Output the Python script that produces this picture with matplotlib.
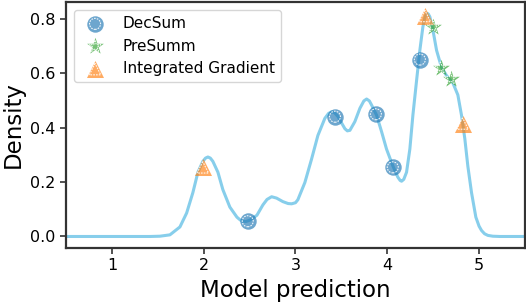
import numpy as np
import matplotlib
matplotlib.use("Agg")
import matplotlib.pyplot as plt
import seaborn as sns

# density curve
curve_x = [0.5, 1.414, 1.523, 1.632, 1.741, 1.814, 1.882, 1.937, 1.991, 2.020, 2.046,
           2.072, 2.100, 2.155, 2.209, 2.285, 2.362, 2.400, 2.427, 2.460, 2.503, 2.580,
           2.645, 2.690, 2.740, 2.794, 2.863, 2.920, 2.958, 3.000, 3.026, 3.102, 3.175,
           3.244, 3.320, 3.360, 3.393, 3.425, 3.462, 3.538, 3.565, 3.593, 3.647, 3.702,
           3.745, 3.775, 3.805, 3.829, 3.883, 3.938, 3.992, 4.061, 4.115, 4.140, 4.156,
           4.180, 4.210, 4.246, 4.279, 4.319, 4.355, 4.388, 4.410, 4.428, 4.446, 4.464,
           4.497, 4.537, 4.591, 4.646, 4.715, 4.769, 4.809, 4.845, 4.878, 4.918, 4.965,
           5.000, 5.027, 5.060, 5.096, 5.150, 5.227, 5.5]
curve_y = [0.0, 0.0, 0.001, 0.006, 0.035, 0.086, 0.161, 0.236, 0.276, 0.288, 0.292,
           0.288, 0.276, 0.236, 0.172, 0.108, 0.071, 0.060, 0.056, 0.055, 0.060, 0.078,
           0.116, 0.136, 0.146, 0.141, 0.128, 0.121, 0.120, 0.124, 0.135, 0.198, 0.284,
           0.371, 0.434, 0.452, 0.458, 0.455, 0.441, 0.396, 0.388, 0.390, 0.422, 0.471,
           0.498, 0.505, 0.498, 0.483, 0.446, 0.385, 0.321, 0.259, 0.218, 0.206, 0.203,
           0.210, 0.236, 0.321, 0.445, 0.572, 0.684, 0.770, 0.805, 0.820, 0.818, 0.807,
           0.759, 0.684, 0.621, 0.591, 0.564, 0.520, 0.445, 0.359, 0.258, 0.161, 0.071,
           0.038, 0.022, 0.010, 0.004, 0.001, 0.0, 0.0]

decsum_x = [2.48, 3.43, 3.876, 4.06, 4.355]
decsum_y = [0.056, 0.44, 0.449, 0.254, 0.65]
presumm_x = [4.50, 4.58, 4.69]
presumm_y = [0.77, 0.62, 0.58]
ig_x = [1.99, 4.41, 4.82]
ig_y = [0.254, 0.81, 0.415]

sns.set_style("ticks")
plt.rcParams['font.family'] = ['DejaVu Sans']
plt.rcParams['text.color'] = 'black'
plt.rcParams['axes.labelcolor'] = 'black'

fig = plt.figure(figsize=(5.26, 3.02), dpi=100)
ax = fig.add_axes([0.1255, 0.18, 0.8725, 0.813])

ax.plot(curve_x, curve_y, color='skyblue', lw=2.2, zorder=1)

handles = []
for xs, ys, m, c, s, lab in [(decsum_x, decsum_y, 'o', 'tab:blue', 140, 'DecSum'),
                             (presumm_x, presumm_y, '*', 'tab:green', 160, 'PreSumm'),
                             (ig_x, ig_y, '^', 'tab:orange', 150, 'Integrated Gradient')]:
    h1 = ax.scatter(xs, ys, s=s, marker=m, color=c, alpha=0.65, linewidths=0, zorder=3)
    h2 = ax.scatter(xs, ys, s=s*0.45, marker=m, facecolors='none', edgecolors='white',
                    linewidths=0.8, linestyle=(0, (1.5, 1)), alpha=0.9, zorder=4)
    handles.append(((h1, h2), lab))

ax.set_xlim(0.5, 5.5)
ax.set_xticks([1, 2, 3, 4, 5])
ax.set_yticks([0.0, 0.2, 0.4, 0.6, 0.8])
ax.tick_params(labelsize=11.5, length=4, width=1.2, color='#333333', labelcolor='black')
for sp in ax.spines.values():
    sp.set_color('#333333')
    sp.set_linewidth(1.6)
ax.set_xlabel('Model prediction', fontsize=16.5)
ax.set_ylabel('Density', fontsize=16.5)
ax.legend([h for h, _ in handles], [l for _, l in handles], loc='upper left', fontsize=11)

fig.savefig('out.png', dpi=100)
